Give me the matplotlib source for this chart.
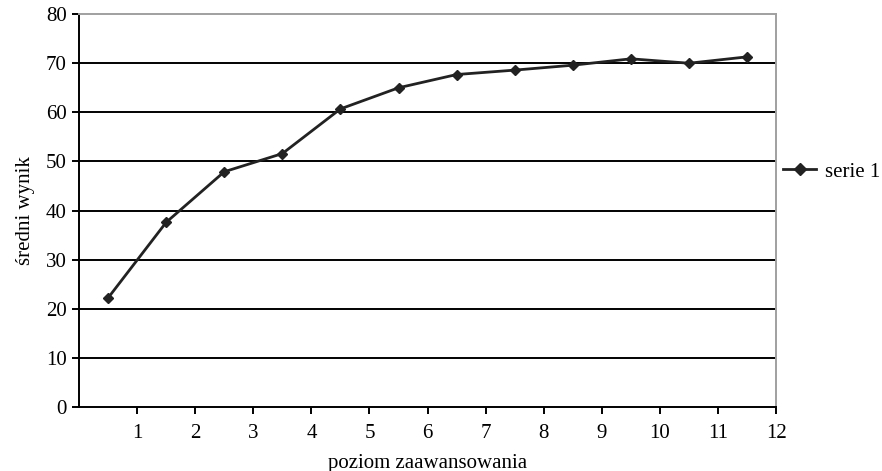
import matplotlib
matplotlib.use("Agg")
import matplotlib.pyplot as plt
from matplotlib.lines import Line2D

# średni wynik dla kolejnych poziomów zaawansowania (punkty w środkach kategorii)
levels = [1, 2, 3, 4, 5, 6, 7, 8, 9, 10, 11, 12]
scores = [22.2, 37.6, 47.9, 51.6, 60.7, 65.0, 67.7, 68.6, 69.6, 70.9, 70.0, 71.3]
y_ticks = [0, 10, 20, 30, 40, 50, 60, 70, 80]

plt.rcParams["font.family"] = ["Liberation Serif", "DejaVu Serif"]
plt.rcParams["font.size"] = 15

fig = plt.figure(figsize=(8.82, 4.71), dpi=100)
ax = fig.add_axes([0.0896, 0.136, 0.7904, 0.834])

xs = [lv - 0.5 for lv in levels]
ax.plot(xs, scores, color="#222222", lw=2, marker="D", ms=5, zorder=3)

ax.set_xlim(0, 12)
ax.set_ylim(0, 80)
ax.set_xticks(levels)
ax.set_yticks(y_ticks)

for v in y_ticks[1:-1]:
    ax.axhline(v, color="black", lw=1.4, zorder=1)

ax.spines["left"].set_color("black")
ax.spines["bottom"].set_color("black")
ax.spines["left"].set_linewidth(1.4)
ax.spines["bottom"].set_linewidth(1.4)
ax.spines["top"].set_color("#a0a0a0")
ax.spines["right"].set_color("#a0a0a0")
ax.spines["top"].set_linewidth(1.4)
ax.spines["right"].set_linewidth(1.4)

ax.tick_params(axis="both", direction="out", length=5, width=1.4, color="black")
ax.tick_params(axis="x", pad=7)
ax.tick_params(axis="y", pad=4)

ax.set_xlabel("poziom zaawansowania", labelpad=8)
ax.set_ylabel("średni wynik", labelpad=8)

handle = Line2D([], [], color="#222222", lw=2, marker="D", ms=6)
fig.legend([handle], ["serie 1"], loc="center left", bbox_to_anchor=(0.883, 0.635),
           frameon=False, handlelength=1.6, handletextpad=0.4, borderpad=0.2,
           borderaxespad=0, fontsize=15)

fig.savefig("out.png", dpi=100)
